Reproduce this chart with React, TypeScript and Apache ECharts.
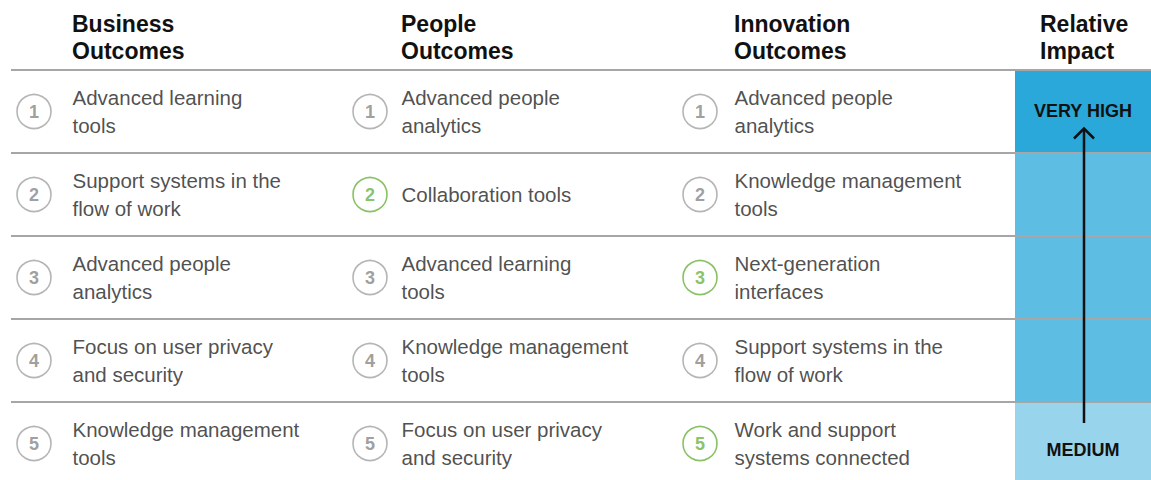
import React, { useEffect, useRef } from "react";
import * as echarts from "echarts";

const rankLabels = ["1", "2", "3", "4", "5"];
const columnTitles = ["Business\nOutcomes", "People\nOutcomes", "Innovation\nOutcomes", "Relative\nImpact"];
const businessItems = [
  "Advanced learning\ntools",
  "Support systems in the\nflow of work",
  "Advanced people\nanalytics",
  "Focus on user privacy\nand security",
  "Knowledge management\ntools",
];
const peopleItems = [
  "Advanced people\nanalytics",
  "Collaboration tools",
  "Advanced learning\ntools",
  "Knowledge management\ntools",
  "Focus on user privacy\nand security",
];
const innovationItems = [
  "Advanced people\nanalytics",
  "Knowledge management\ntools",
  "Next-generation\ninterfaces",
  "Support systems in the\nflow of work",
  "Work and support\nsystems connected",
];
const businessHighlight = [false, false, false, false, false];
const peopleHighlight = [false, true, false, false, false];
const innovationHighlight = [false, false, true, false, true];
const impactLevel = ["veryHigh", "high", "high", "high", "medium"];
const impactText = ["VERY HIGH", "", "", "", "MEDIUM"];

const FONT = "'Liberation Sans', Arial, Helvetica, sans-serif";
const GREEN = "#6cb33f";
const GRAY_RING = "#a3a3a3";
const GRAY_NUM = "#868686";
const LINE = "#a6a6a6";
const SHADES: Record<string, string> = { veryHigh: "#29a8d9", high: "#5dbde3", medium: "#98d4ec" };

const GRID_TOP = 70;
const GRID_H = 415;

const columns = [
  { items: businessItems, hl: businessHighlight, circleX: 34, textGap: 38, titleX: 72 },
  { items: peopleItems, hl: peopleHighlight, circleX: 370, textGap: 31, titleX: 401 },
  { items: innovationItems, hl: innovationHighlight, circleX: 700, textGap: 34, titleX: 734 },
];

function buildOption() {
  const grids: any[] = [];
  const xAxes: any[] = [];
  const yAxes: any[] = [];
  const series: any[] = [];

  // grid 0: row separator lines
  grids.push({ left: 11, right: 0, top: GRID_TOP, height: GRID_H });
  xAxes.push({ gridIndex: 0, type: "value", min: 0, max: 1, show: false });
  yAxes.push({
    gridIndex: 0,
    type: "category",
    data: rankLabels,
    inverse: true,
    z: 10,
    axisLine: { show: false },
    axisTick: { show: false },
    axisLabel: { show: false },
    splitLine: { show: true, interval: 0, lineStyle: { color: LINE, width: 2 } },
  });

  columns.forEach((col, ci) => {
    const gi = ci + 1;
    grids.push({ left: col.circleX, width: 10, top: GRID_TOP, height: GRID_H });
    xAxes.push({ gridIndex: gi, type: "value", min: 0, max: 1, show: false });
    yAxes.push({ gridIndex: gi, type: "category", data: rankLabels, inverse: true, show: false });
    series.push({
      type: "scatter",
      xAxisIndex: gi,
      yAxisIndex: gi,
      silent: true,
      symbol: "circle",
      symbolSize: 34,
      z: 5,
      data: rankLabels.map((r, i) => ({
        value: [0, i],
        itemStyle: { color: "#ffffff", borderColor: col.hl[i] ? GREEN : GRAY_RING, borderWidth: 1.6 },
        label: { color: col.hl[i] ? GREEN : GRAY_NUM },
      })),
      label: {
        show: true,
        position: "inside",
        formatter: (p: any) => rankLabels[p.dataIndex],
        fontSize: 18,
        fontWeight: "bold",
        fontFamily: FONT,
      },
    });
    series.push({
      type: "scatter",
      xAxisIndex: gi,
      yAxisIndex: gi,
      silent: true,
      symbol: "circle",
      symbolSize: 1,
      itemStyle: { color: "rgba(0,0,0,0)" },
      z: 5,
      data: col.items.map((_, i) => [0, i]),
      label: {
        show: true,
        position: "right",
        distance: col.textGap,
        formatter: (p: any) => col.items[p.dataIndex],
        fontSize: 20.5,
        lineHeight: 28,
        color: "#222222",
        fontFamily: FONT,
        align: "left",
        verticalAlign: "middle",
      },
    });
  });

  // grid 4: relative impact column
  grids.push({ left: 1015, right: 0, top: GRID_TOP, height: GRID_H });
  xAxes.push({ gridIndex: 4, type: "value", min: 0, max: 1, show: false });
  yAxes.push({ gridIndex: 4, type: "category", data: rankLabels, inverse: true, show: false });
  series.push({
    type: "bar",
    xAxisIndex: 4,
    yAxisIndex: 4,
    silent: true,
    barWidth: "100%",
    z: 2,
    data: impactLevel.map((lvl, i) => ({
      value: 1,
      itemStyle: { color: SHADES[lvl] },
      label: { offset: i === impactLevel.length - 1 ? [0, 6] : [0, -1] },
    })),
    label: {
      show: true,
      position: "inside",
      formatter: (p: any) => impactText[p.dataIndex],
      fontSize: 18,
      fontWeight: "bold",
      color: "#111111",
      fontFamily: FONT,
    },
  });

  const titles = columnTitles.map((t, i) => ({
    text: t,
    left: i < 3 ? columns[i].titleX : 1040,
    top: 10,
    padding: 0,
    textStyle: { fontSize: 23, fontWeight: "bold", color: "#111111", lineHeight: 27, fontFamily: FONT },
  }));

  return {
    animation: false,
    backgroundColor: "#ffffff",
    title: titles,
    grid: grids,
    xAxis: xAxes,
    yAxis: yAxes,
    series,
    graphic: [
      {
        type: "line",
        z: 100,
        shape: { x1: 1084, y1: 423, x2: 1084, y2: 129 },
        style: { stroke: "#111111", lineWidth: 2.5 },
      },
      {
        type: "polyline",
        z: 100,
        shape: { points: [[1074, 138.5], [1084, 128.5], [1094, 138.5]] },
        style: { stroke: "#111111", lineWidth: 2.5, fill: null },
      },
    ],
  };
}

export default function App() {
  const ref = useRef<HTMLDivElement>(null);
  useEffect(() => {
    document.body.style.margin = "0";
    document.body.style.overflow = "hidden";
    document.documentElement.style.overflow = "hidden";
    if (!ref.current) return;
    const chart = echarts.init(ref.current, undefined, { renderer: "svg" });
    chart.setOption(buildOption() as any);
    return () => chart.dispose();
  }, []);
  return <div ref={ref} style={{ width: 1151, height: 485 }} />;
}
